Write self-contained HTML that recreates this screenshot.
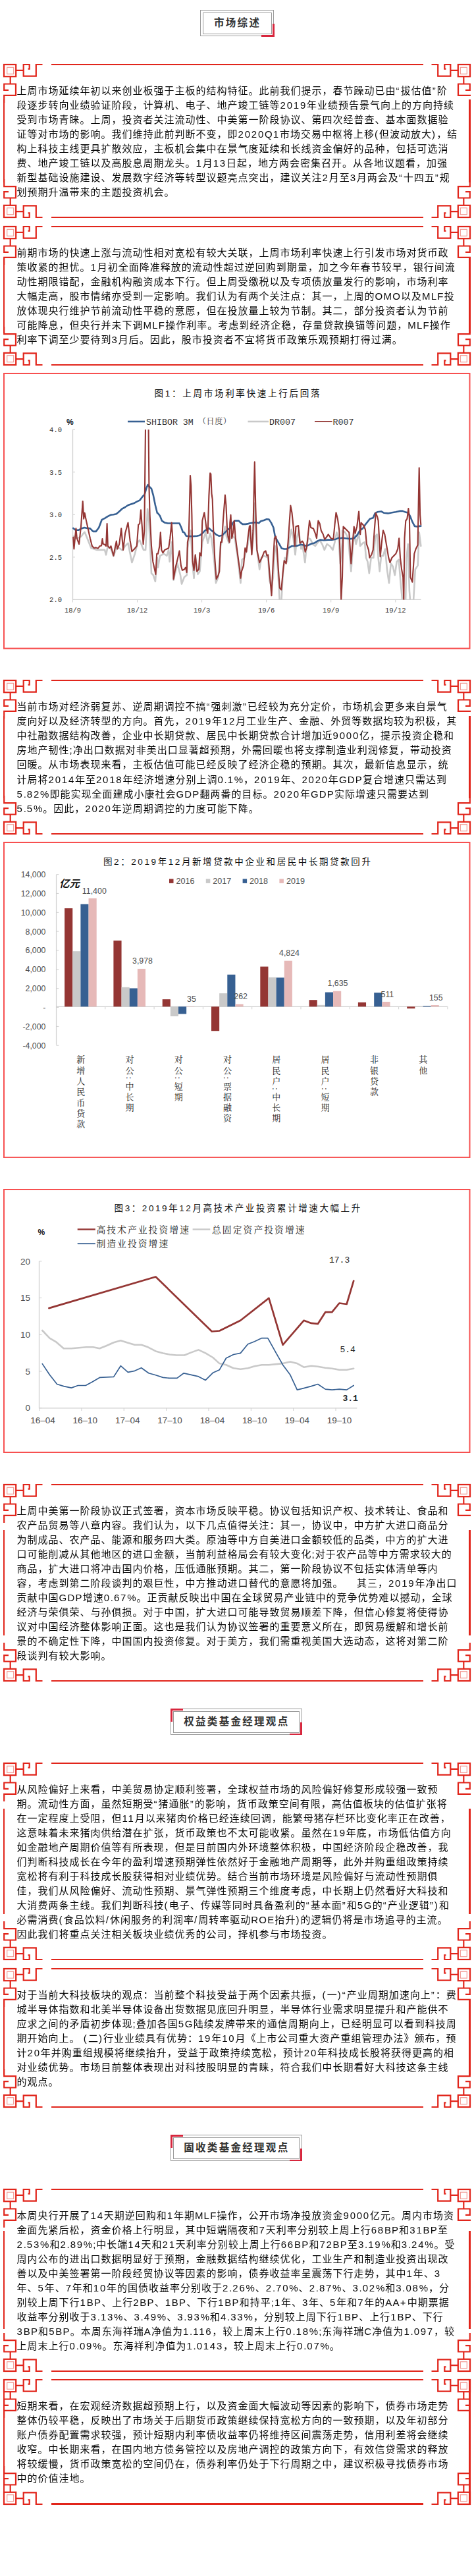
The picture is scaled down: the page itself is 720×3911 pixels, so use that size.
<!DOCTYPE html>
<html lang="zh-CN"><head><meta charset="utf-8"><title>市场综述</title><style>
*{margin:0;padding:0;box-sizing:border-box}
html,body{background:#fff}
body{width:720px;height:3911px;position:relative;overflow:hidden;font-family:"Liberation Sans","Noto Sans CJK SC",sans-serif;color:#111}
.abs{position:absolute}
.fr{position:absolute;left:5.1px;width:709.5px}
.fr svg{position:absolute;overflow:visible}
.hl{position:absolute;left:72.6px;width:565.6px;height:2.2px;background:#e1251b}
.vl{position:absolute;width:2.4px;background:#e1251b}
.tx{position:absolute;left:20.5px;font-size:15px;letter-spacing:1.0px;line-height:22.05px;white-space:nowrap;color:#0a0a0a;filter:grayscale(1)}
.tx div{height:22.05px}
.d{letter-spacing:1.75px}.u{letter-spacing:1.2px}.q{letter-spacing:2px}.p{letter-spacing:2.1px}
.ttl{position:absolute;height:40px;border:1px solid #9a9a9a;}
.ttl i{position:absolute;left:2.5px;top:2.5px;right:2.5px;bottom:2.5px;border:1px solid #9a9a9a}
.ttl b{position:absolute;left:0;right:0;top:0;bottom:0;text-align:center;line-height:38px;font-size:15.5px;letter-spacing:2.3px;text-indent:0.5px;color:#333;font-weight:bold}
.ttl u{position:absolute;background:#d7263d;text-decoration:none}
.cb{position:absolute;left:5px;width:709.5px;border:2px solid #f75050}
.cb svg{position:absolute;left:-7px;top:0}
</style></head><body>
<div class="ttl" style="top:15.4px;left:304.2px;width:112.3px"><i></i><b>市场综述</b><u style="right:-1.5px;bottom:-1.2px;width:19.5px;height:2.6px"></u><u style="right:-1.5px;bottom:-1.2px;width:3px;height:19.5px"></u></div>
<div class="ttl" style="top:2594.3px;left:259.2px;width:199.8px"><i></i><b>权益类基金经理观点</b><u style="left:-1.5px;top:-1.2px;width:19.5px;height:2.6px"></u><u style="left:-1.5px;top:-1.2px;width:3px;height:19.5px"></u><u style="right:-1.5px;bottom:-1.2px;width:19.5px;height:2.6px"></u><u style="right:-1.5px;bottom:-1.2px;width:3px;height:19.5px"></u></div>
<div class="ttl" style="top:3241.2px;left:259.2px;width:199.8px"><i></i><b>固收类基金经理观点</b><u style="left:-1.5px;top:-1.2px;width:19.5px;height:2.6px"></u><u style="left:-1.5px;top:-1.2px;width:3px;height:19.5px"></u><u style="right:-1.5px;bottom:-1.2px;width:19.5px;height:2.6px"></u><u style="right:-1.5px;bottom:-1.2px;width:3px;height:19.5px"></u></div>
<div class="fr" style="top:96.5px;height:234.6px">
<svg width="60" height="60" style="left:0;top:0"><g transform="translate(0,0)"><g fill="none" stroke="#e1251b" stroke-width="2.2"><rect x="1" y="1" width="18.2" height="18.2"/><path d="M19 9.8H30.7M30.7 0V19.7M30.7 1H39.7V7.6H37.6M30.7 18.7H49.8V1H59.5M10.7 19V30.5M0.2 30.5H20M1.2 30.5V39.9H8M19 30.5V47.9H1.2V59"/></g><rect x="5.7" y="5.3" width="10" height="10" fill="none" stroke="#f29b95" stroke-width="1.2"/></g></svg>
<svg width="60" height="60" style="right:0;top:0"><g transform="translate(60,0) scale(-1,1)"><g transform="translate(0,0)"><g fill="none" stroke="#e1251b" stroke-width="2.2"><rect x="1" y="1" width="18.2" height="18.2"/><path d="M19 9.8H30.7M30.7 0V19.7M30.7 1H39.7V7.6H37.6M30.7 18.7H49.8V1H59.5M10.7 19V30.5M0.2 30.5H20M1.2 30.5V39.9H8M19 30.5V47.9H1.2H0"/></g><rect x="5.7" y="5.3" width="10" height="10" fill="none" stroke="#f29b95" stroke-width="1.2"/></g></g></svg>
<svg width="60" height="60" style="left:0;bottom:0"><g transform="translate(0,60) scale(1,-1)"><g transform="translate(0,0)"><g fill="none" stroke="#e1251b" stroke-width="2.2"><rect x="1" y="1" width="18.2" height="18.2"/><path d="M19 9.8H30.7M30.7 0V19.7M30.7 1H39.7V7.6H37.6M30.7 18.7H49.8V1H59.5M10.7 19V30.5M0.2 30.5H20M1.2 30.5V39.9H8M19 30.5V47.9H1.2V59"/></g><rect x="5.7" y="5.3" width="10" height="10" fill="none" stroke="#f29b95" stroke-width="1.2"/></g></g></svg>
<svg width="60" height="60" style="right:0;bottom:0"><g transform="translate(60,60) scale(-1,-1)"><g transform="translate(0,0)"><g fill="none" stroke="#e1251b" stroke-width="2.2"><rect x="1" y="1" width="18.2" height="18.2"/><path d="M19 9.8H30.7M30.7 0V19.7M30.7 1H39.7V7.6H37.6M30.7 18.7H49.8V1H59.5M10.7 19V30.5M0.2 30.5H20M1.2 30.5V39.9H8M19 30.5V47.9H1.2V59"/></g><rect x="5.7" y="5.3" width="10" height="10" fill="none" stroke="#f29b95" stroke-width="1.2"/></g></g></svg>
<div class="hl" style="top:0"></div><div class="hl" style="bottom:0"></div>
<div class="vl" style="left:0px;top:54.6px;height:125.5px"></div>
<div class="vl" style="left:707.1px;top:54.6px;height:125.5px"></div>
<div class="tx" style="top:30.08px">
<div>上周市场延续年初以来创业板强于主板的结构特征。此前我们提示，春节躁动已由<span class="q">“</span>拔估值<span class="q">”</span>阶</div>
<div>段逐步转向业绩验证阶段，计算机、电子、地产竣工链等<span class="d">2019</span>年业绩预告景气向上的方向持续</div>
<div>受到市场青睐。上周，投资者关注流动性、中美第一阶段协议、第四次经普查、基本面数据验</div>
<div>证等对市场的影响。我们维持此前判断不变，即<span class="d">2020</span><span class="u">Q</span><span class="d">1</span>市场交易中枢将上移<span class="p">(</span>但波动放大<span class="p">)</span>，结</div>
<div>构上科技主线更具扩散效应，主板机会集中在景气度延续和长线资金偏好的品种，包括可选消</div>
<div>费、地产竣工链以及高股息周期龙头。<span class="d">1</span>月<span class="d">13</span>日起，地方两会密集召开。从各地议题看，加强</div>
<div>新型基础设施建设、发展数字经济等转型议题亮点突出，建议关注<span class="d">2</span>月至<span class="d">3</span>月两会及<span class="q">“</span>十四五<span class="q">”</span>规</div>
<div>划预期升温带来的主题投资机会。</div>
</div></div>
<div class="fr" style="top:342.7px;height:212.6px">
<svg width="60" height="60" style="left:0;top:0"><g transform="translate(0,0)"><g fill="none" stroke="#e1251b" stroke-width="2.2"><rect x="1" y="1" width="18.2" height="18.2"/><path d="M19 9.8H30.7M30.7 0V19.7M30.7 1H39.7V7.6H37.6M30.7 18.7H49.8V1H59.5M10.7 19V30.5M0.2 30.5H20M1.2 30.5V39.9H8M19 30.5V47.9H1.2V59"/></g><rect x="5.7" y="5.3" width="10" height="10" fill="none" stroke="#f29b95" stroke-width="1.2"/></g></svg>
<svg width="60" height="60" style="right:0;top:0"><g transform="translate(60,0) scale(-1,1)"><g transform="translate(0,0)"><g fill="none" stroke="#e1251b" stroke-width="2.2"><rect x="1" y="1" width="18.2" height="18.2"/><path d="M19 9.8H30.7M30.7 0V19.7M30.7 1H39.7V7.6H37.6M30.7 18.7H49.8V1H59.5M10.7 19V30.5M0.2 30.5H20M1.2 30.5V39.9H8M19 30.5V47.9H1.2H0"/></g><rect x="5.7" y="5.3" width="10" height="10" fill="none" stroke="#f29b95" stroke-width="1.2"/></g></g></svg>
<svg width="60" height="60" style="left:0;bottom:0"><g transform="translate(0,60) scale(1,-1)"><g transform="translate(0,0)"><g fill="none" stroke="#e1251b" stroke-width="2.2"><rect x="1" y="1" width="18.2" height="18.2"/><path d="M19 9.8H30.7M30.7 0V19.7M30.7 1H39.7V7.6H37.6M30.7 18.7H49.8V1H59.5M10.7 19V30.5M0.2 30.5H20M1.2 30.5V39.9H8M19 30.5V47.9H1.2V59"/></g><rect x="5.7" y="5.3" width="10" height="10" fill="none" stroke="#f29b95" stroke-width="1.2"/></g></g></svg>
<svg width="60" height="60" style="right:0;bottom:0"><g transform="translate(60,60) scale(-1,-1)"><g transform="translate(0,0)"><g fill="none" stroke="#e1251b" stroke-width="2.2"><rect x="1" y="1" width="18.2" height="18.2"/><path d="M19 9.8H30.7M30.7 0V19.7M30.7 1H39.7V7.6H37.6M30.7 18.7H49.8V1H59.5M10.7 19V30.5M0.2 30.5H20M1.2 30.5V39.9H8M19 30.5V47.9H1.2V59"/></g><rect x="5.7" y="5.3" width="10" height="10" fill="none" stroke="#f29b95" stroke-width="1.2"/></g></g></svg>
<div class="hl" style="top:0"></div><div class="hl" style="bottom:0"></div>
<div class="vl" style="left:0px;top:49.5px;height:113.7px"></div>
<div class="vl" style="left:707.1px;top:49.5px;height:113.7px"></div>
<div class="tx" style="top:30.08px">
<div>前期市场的快速上涨与流动性相对宽松有较大关联，上周市场利率快速上行引发市场对货币政</div>
<div>策收紧的担忧。<span class="d">1</span>月初全面降准释放的流动性超过逆回购到期量，加之今年春节较早，银行间流</div>
<div>动性期限错配，金融机构融资成本下行。但上周受缴税以及专项债放量发行的影响，市场利率</div>
<div>大幅走高，股市情绪亦受到一定影响。我们认为有两个关注点：其一，上周的<span class="u">OMO</span>以及<span class="u">MLF</span>投</div>
<div>放体现央行维护节前流动性平稳的意愿，但在投放量上较为节制。其二，部分投资者认为节前</div>
<div>可能降息，但央行并未下调<span class="u">MLF</span>操作利率。考虑到经济企稳，存量贷款换锚等问题，<span class="u">MLF</span>操作</div>
<div>利率下调至少要待到<span class="d">3</span>月后。因此，股市投资者不宜将货币政策乐观预期打得过满。</div>
</div></div>
<div class="fr" style="top:1032.2px;height:234.6px">
<svg width="60" height="60" style="left:0;top:0"><g transform="translate(0,0)"><g fill="none" stroke="#e1251b" stroke-width="2.2"><rect x="1" y="1" width="18.2" height="18.2"/><path d="M19 9.8H30.7M30.7 0V19.7M30.7 1H39.7V7.6H37.6M30.7 18.7H49.8V1H59.5M10.7 19V30.5M0.2 30.5H20M1.2 30.5V39.9H8M19 30.5V47.9H1.2V59"/></g><rect x="5.7" y="5.3" width="10" height="10" fill="none" stroke="#f29b95" stroke-width="1.2"/></g></svg>
<svg width="60" height="60" style="right:0;top:0"><g transform="translate(60,0) scale(-1,1)"><g transform="translate(0,0)"><g fill="none" stroke="#e1251b" stroke-width="2.2"><rect x="1" y="1" width="18.2" height="18.2"/><path d="M19 9.8H30.7M30.7 0V19.7M30.7 1H39.7V7.6H37.6M30.7 18.7H49.8V1H59.5M10.7 19V30.5M0.2 30.5H20M1.2 30.5V39.9H8M19 30.5V47.9H1.2H0"/></g><rect x="5.7" y="5.3" width="10" height="10" fill="none" stroke="#f29b95" stroke-width="1.2"/></g></g></svg>
<svg width="60" height="60" style="left:0;bottom:0"><g transform="translate(0,60) scale(1,-1)"><g transform="translate(0,0)"><g fill="none" stroke="#e1251b" stroke-width="2.2"><rect x="1" y="1" width="18.2" height="18.2"/><path d="M19 9.8H30.7M30.7 0V19.7M30.7 1H39.7V7.6H37.6M30.7 18.7H49.8V1H59.5M10.7 19V30.5M0.2 30.5H20M1.2 30.5V39.9H8M19 30.5V47.9H1.2V59"/></g><rect x="5.7" y="5.3" width="10" height="10" fill="none" stroke="#f29b95" stroke-width="1.2"/></g></g></svg>
<svg width="60" height="60" style="right:0;bottom:0"><g transform="translate(60,60) scale(-1,-1)"><g transform="translate(0,0)"><g fill="none" stroke="#e1251b" stroke-width="2.2"><rect x="1" y="1" width="18.2" height="18.2"/><path d="M19 9.8H30.7M30.7 0V19.7M30.7 1H39.7V7.6H37.6M30.7 18.7H49.8V1H59.5M10.7 19V30.5M0.2 30.5H20M1.2 30.5V39.9H8M19 30.5V47.9H1.2V59"/></g><rect x="5.7" y="5.3" width="10" height="10" fill="none" stroke="#f29b95" stroke-width="1.2"/></g></g></svg>
<div class="hl" style="top:0"></div><div class="hl" style="bottom:0"></div>
<div class="vl" style="left:0px;top:54.6px;height:125.5px"></div>
<div class="vl" style="left:707.1px;top:54.6px;height:125.5px"></div>
<div class="tx" style="top:30.08px">
<div>当前市场对经济弱复苏、逆周期调控不搞<span class="q">“</span>强刺激<span class="q">”</span>已经较为充分定价，市场机会更多来自景气</div>
<div>度向好以及经济转型的方向。首先，<span class="d">2019</span>年<span class="d">12</span>月工业生产、金融、外贸等数据均较为积极，其</div>
<div>中社融数据结构改善，企业中长期贷款、居民中长期贷款合计增加近<span class="d">9000</span>亿，提示投资企稳和</div>
<div>房地产韧性;净出口数据对非美出口显著超预期，外需回暖也将支撑制造业利润修复，带动投资</div>
<div>回暖。从市场表现来看，主板估值可能已经反映了经济企稳的预期。其次，最新信息显示，统</div>
<div>计局将<span class="d">2014</span>年至<span class="d">2018</span>年经济增速分别上调<span class="d">0</span>.<span class="d">1</span>%，<span class="d">2019</span>年、<span class="d">2020</span>年<span class="u">GDP</span>复合增速只需达到</div>
<div><span class="d">5</span>.<span class="d">82</span>%即能实现全面建成小康社会<span class="u">GDP</span>翻两番的目标。<span class="d">2020</span>年<span class="u">GDP</span>实际增速只需要达到</div>
<div><span class="d">5</span>.<span class="d">5</span>%。因此，<span class="d">2020</span>年逆周期调控的力度可能下降。</div>
</div></div>
<div class="fr" style="top:2252.6px;height:300.8px">
<svg width="60" height="60" style="left:0;top:0"><g transform="translate(0,0)"><g fill="none" stroke="#e1251b" stroke-width="2.2"><rect x="1" y="1" width="18.2" height="18.2"/><path d="M19 9.8H30.7M30.7 0V19.7M30.7 1H39.7V7.6H37.6M30.7 18.7H49.8V1H59.5M10.7 19V30.5M0.2 30.5H20M1.2 30.5V39.9H8M19 30.5V47.9H1.2V59"/></g><rect x="5.7" y="5.3" width="10" height="10" fill="none" stroke="#f29b95" stroke-width="1.2"/></g></svg>
<svg width="60" height="60" style="right:0;top:0"><g transform="translate(60,0) scale(-1,1)"><g transform="translate(0,0)"><g fill="none" stroke="#e1251b" stroke-width="2.2"><rect x="1" y="1" width="18.2" height="18.2"/><path d="M19 9.8H30.7M30.7 0V19.7M30.7 1H39.7V7.6H37.6M30.7 18.7H49.8V1H59.5M10.7 19V30.5M0.2 30.5H20M1.2 30.5V39.9H8M19 30.5V47.9H1.2H0"/></g><rect x="5.7" y="5.3" width="10" height="10" fill="none" stroke="#f29b95" stroke-width="1.2"/></g></g></svg>
<svg width="60" height="60" style="left:0;bottom:0"><g transform="translate(0,60) scale(1,-1)"><g transform="translate(0,0)"><g fill="none" stroke="#e1251b" stroke-width="2.2"><rect x="1" y="1" width="18.2" height="18.2"/><path d="M19 9.8H30.7M30.7 0V19.7M30.7 1H39.7V7.6H37.6M30.7 18.7H49.8V1H59.5M10.7 19V30.5M0.2 30.5H20M1.2 30.5V39.9H8M19 30.5V47.9H1.2V59"/></g><rect x="5.7" y="5.3" width="10" height="10" fill="none" stroke="#f29b95" stroke-width="1.2"/></g></g></svg>
<svg width="60" height="60" style="right:0;bottom:0"><g transform="translate(60,60) scale(-1,-1)"><g transform="translate(0,0)"><g fill="none" stroke="#e1251b" stroke-width="2.2"><rect x="1" y="1" width="18.2" height="18.2"/><path d="M19 9.8H30.7M30.7 0V19.7M30.7 1H39.7V7.6H37.6M30.7 18.7H49.8V1H59.5M10.7 19V30.5M0.2 30.5H20M1.2 30.5V39.9H8M19 30.5V47.9H1.2V59"/></g><rect x="5.7" y="5.3" width="10" height="10" fill="none" stroke="#f29b95" stroke-width="1.2"/></g></g></svg>
<div class="hl" style="top:0"></div><div class="hl" style="bottom:0"></div>
<div class="vl" style="left:0px;top:70.0px;height:160.9px"></div>
<div class="vl" style="left:707.1px;top:70.0px;height:160.9px"></div>
<div class="tx" style="top:30.08px">
<div>上周中美第一阶段协议正式签署，资本市场反映平稳。协议包括知识产权、技术转让、食品和</div>
<div>农产品贸易等八章内容。我们认为，以下几点值得关注：其一，协议中，中方扩大进口商品分</div>
<div>为制成品、农产品、能源和服务四大类。原油等中方自美进口金额较低的品类，中方的扩大进</div>
<div>口可能削减从其他地区的进口金额，当前利益格局会有较大变化;对于农产品等中方需求较大的</div>
<div>商品，扩大进口将冲击国内价格，压低通胀预期。其二，第一阶段协议不包括实体清单等内</div>
<div>容，考虑到第二阶段谈判的艰巨性，中方推动进口替代的意愿将加强。<span style="display:inline-block;width:20.4px"></span>其三，<span class="d">2019</span>年净出口</div>
<div>贡献中国<span class="u">GDP</span>增速<span class="d">0</span>.<span class="d">67</span>%。正贡献反映出中国在全球贸易产业链中的竞争优势难以撼动，全球</div>
<div>经济与荣俱荣、与孙俱损。对于中国，扩大进口可能导致贸易顺差下降，但信心修复将使得协</div>
<div>议对中国经济整体影响正面。这也是我们认为协议签署的重要意义所在，即贸易缓解和增长前</div>
<div>景的不确定性下降，中国国内投资修复。对于美方，我们需重视美国大选动态，这将对第二阶</div>
<div>段谈判有较大影响。</div>
</div></div>
<div class="fr" style="top:2675.5px;height:300.8px">
<svg width="60" height="60" style="left:0;top:0"><g transform="translate(0,0)"><g fill="none" stroke="#e1251b" stroke-width="2.2"><rect x="1" y="1" width="18.2" height="18.2"/><path d="M19 9.8H30.7M30.7 0V19.7M30.7 1H39.7V7.6H37.6M30.7 18.7H49.8V1H59.5M10.7 19V30.5M0.2 30.5H20M1.2 30.5V39.9H8M19 30.5V47.9H1.2V59"/></g><rect x="5.7" y="5.3" width="10" height="10" fill="none" stroke="#f29b95" stroke-width="1.2"/></g></svg>
<svg width="60" height="60" style="right:0;top:0"><g transform="translate(60,0) scale(-1,1)"><g transform="translate(0,0)"><g fill="none" stroke="#e1251b" stroke-width="2.2"><rect x="1" y="1" width="18.2" height="18.2"/><path d="M19 9.8H30.7M30.7 0V19.7M30.7 1H39.7V7.6H37.6M30.7 18.7H49.8V1H59.5M10.7 19V30.5M0.2 30.5H20M1.2 30.5V39.9H8M19 30.5V47.9H1.2H0"/></g><rect x="5.7" y="5.3" width="10" height="10" fill="none" stroke="#f29b95" stroke-width="1.2"/></g></g></svg>
<svg width="60" height="60" style="left:0;bottom:0"><g transform="translate(0,60) scale(1,-1)"><g transform="translate(0,0)"><g fill="none" stroke="#e1251b" stroke-width="2.2"><rect x="1" y="1" width="18.2" height="18.2"/><path d="M19 9.8H30.7M30.7 0V19.7M30.7 1H39.7V7.6H37.6M30.7 18.7H49.8V1H59.5M10.7 19V30.5M0.2 30.5H20M1.2 30.5V39.9H8M19 30.5V47.9H1.2V59"/></g><rect x="5.7" y="5.3" width="10" height="10" fill="none" stroke="#f29b95" stroke-width="1.2"/></g></g></svg>
<svg width="60" height="60" style="right:0;bottom:0"><g transform="translate(60,60) scale(-1,-1)"><g transform="translate(0,0)"><g fill="none" stroke="#e1251b" stroke-width="2.2"><rect x="1" y="1" width="18.2" height="18.2"/><path d="M19 9.8H30.7M30.7 0V19.7M30.7 1H39.7V7.6H37.6M30.7 18.7H49.8V1H59.5M10.7 19V30.5M0.2 30.5H20M1.2 30.5V39.9H8M19 30.5V47.9H1.2V59"/></g><rect x="5.7" y="5.3" width="10" height="10" fill="none" stroke="#f29b95" stroke-width="1.2"/></g></g></svg>
<div class="hl" style="top:0"></div><div class="hl" style="bottom:0"></div>
<div class="vl" style="left:0px;top:70.0px;height:160.9px"></div>
<div class="vl" style="left:707.1px;top:70.0px;height:160.9px"></div>
<div class="tx" style="top:30.08px">
<div>从风险偏好上来看，中美贸易协定顺利签署，全球权益市场的风险偏好修复形成较强一致预</div>
<div>期。流动性方面，虽然短期受<span class="q">“</span>猪通胀<span class="q">”</span>的影响，货币政策空间有限，高估值板块的估值扩张将</div>
<div>在一定程度上受阻，但<span class="d">11</span>月以来猪肉价格已经连续回调，能繁母猪存栏环比变化率正在改善，</div>
<div>这意味着未来猪肉供给潜在扩张，货币政策也不太可能收紧。虽然在<span class="d">19</span>年底，市场低估值方向</div>
<div>如金融地产周期价值等有所表现，但是目前国内外环境整体积极，中国经济阶段企稳改善，我</div>
<div>们判断科技成长在今年的盈利增速预期弹性依然好于金融地产周期等，此外并购重组政策持续</div>
<div>宽松将有利于科技成长股获得相对业绩优势。结合当前市场环境是风险偏好与流动性预期俱</div>
<div>佳，我们从风险偏好、流动性预期、景气弹性预期三个维度考虑，中长期上仍然看好大科技和</div>
<div>大消费两条主线。我们判断科技<span class="p">(</span>电子、传媒等同时具备盈利的<span class="q">“</span>基本面<span class="q">”</span>和<span class="d">5</span><span class="u">G</span>的<span class="q">“</span>产业逻辑<span class="q">”</span><span class="p">)</span>和</div>
<div>必需消费<span class="p">(</span>食品饮料<span class="p">/</span>休闲服务的利润率<span class="p">/</span>周转率驱动<span class="u">ROE</span>抬升<span class="p">)</span>的逻辑仍将是市场追寻的主流。</div>
<div>因此我们将重点关注相关板块业绩优秀的公司，择机参与市场投资。</div>
</div></div>
<div class="fr" style="top:2987.9px;height:212.6px">
<svg width="60" height="60" style="left:0;top:0"><g transform="translate(0,0)"><g fill="none" stroke="#e1251b" stroke-width="2.2"><rect x="1" y="1" width="18.2" height="18.2"/><path d="M19 9.8H30.7M30.7 0V19.7M30.7 1H39.7V7.6H37.6M30.7 18.7H49.8V1H59.5M10.7 19V30.5M0.2 30.5H20M1.2 30.5V39.9H8M19 30.5V47.9H1.2V59"/></g><rect x="5.7" y="5.3" width="10" height="10" fill="none" stroke="#f29b95" stroke-width="1.2"/></g></svg>
<svg width="60" height="60" style="right:0;top:0"><g transform="translate(60,0) scale(-1,1)"><g transform="translate(0,0)"><g fill="none" stroke="#e1251b" stroke-width="2.2"><rect x="1" y="1" width="18.2" height="18.2"/><path d="M19 9.8H30.7M30.7 0V19.7M30.7 1H39.7V7.6H37.6M30.7 18.7H49.8V1H59.5M10.7 19V30.5M0.2 30.5H20M1.2 30.5V39.9H8M19 30.5V47.9H1.2H0"/></g><rect x="5.7" y="5.3" width="10" height="10" fill="none" stroke="#f29b95" stroke-width="1.2"/></g></g></svg>
<svg width="60" height="60" style="left:0;bottom:0"><g transform="translate(0,60) scale(1,-1)"><g transform="translate(0,0)"><g fill="none" stroke="#e1251b" stroke-width="2.2"><rect x="1" y="1" width="18.2" height="18.2"/><path d="M19 9.8H30.7M30.7 0V19.7M30.7 1H39.7V7.6H37.6M30.7 18.7H49.8V1H59.5M10.7 19V30.5M0.2 30.5H20M1.2 30.5V39.9H8M19 30.5V47.9H1.2V59"/></g><rect x="5.7" y="5.3" width="10" height="10" fill="none" stroke="#f29b95" stroke-width="1.2"/></g></g></svg>
<svg width="60" height="60" style="right:0;bottom:0"><g transform="translate(60,60) scale(-1,-1)"><g transform="translate(0,0)"><g fill="none" stroke="#e1251b" stroke-width="2.2"><rect x="1" y="1" width="18.2" height="18.2"/><path d="M19 9.8H30.7M30.7 0V19.7M30.7 1H39.7V7.6H37.6M30.7 18.7H49.8V1H59.5M10.7 19V30.5M0.2 30.5H20M1.2 30.5V39.9H8M19 30.5V47.9H1.2V59"/></g><rect x="5.7" y="5.3" width="10" height="10" fill="none" stroke="#f29b95" stroke-width="1.2"/></g></g></svg>
<div class="hl" style="top:0"></div><div class="hl" style="bottom:0"></div>
<div class="vl" style="left:0px;top:49.5px;height:113.7px"></div>
<div class="vl" style="left:707.1px;top:49.5px;height:113.7px"></div>
<div class="tx" style="top:30.08px">
<div>对于当前大科技板块的观点：当前整个科技受益于两个因素共振，<span class="p">(</span>一<span class="p">)</span><span class="q">“</span>产业周期加速向上<span class="q">”</span>：费</div>
<div>城半导体指数和北美半导体设备出货数据见底回升明显，半导体行业需求明显提升和产能供不</div>
<div>应求之间的矛盾初步体现;叠加各国<span class="d">5</span><span class="u">G</span>陆续发牌带来的通信周期向上，已经明显可以看到科技周</div>
<div>期开始向上。 <span class="p">(</span>二<span class="p">)</span>行业业绩具有优势：<span class="d">19</span>年<span class="d">10</span>月《上市公司重大资产重组管理办法》颁布，预</div>
<div>计<span class="d">20</span>年并购重组规模将继续抬升，受益于政策持续宽松，预计<span class="d">20</span>年科技成长股将获得更高的相</div>
<div>对业绩优势。市场目前整体表现出对科技股明显的青睐，符合我们中长期看好大科技这条主线</div>
<div>的观点。</div>
</div></div>
<div class="fr" style="top:3322.7px;height:278.7px">
<svg width="60" height="60" style="left:0;top:0"><g transform="translate(0,0)"><g fill="none" stroke="#e1251b" stroke-width="2.2"><rect x="1" y="1" width="18.2" height="18.2"/><path d="M19 9.8H30.7M30.7 0V19.7M30.7 1H39.7V7.6H37.6M30.7 18.7H49.8V1H59.5M10.7 19V30.5M0.2 30.5H20M1.2 30.5V39.9H8M19 30.5V47.9H1.2V59"/></g><rect x="5.7" y="5.3" width="10" height="10" fill="none" stroke="#f29b95" stroke-width="1.2"/></g></svg>
<svg width="60" height="60" style="right:0;top:0"><g transform="translate(60,0) scale(-1,1)"><g transform="translate(0,0)"><g fill="none" stroke="#e1251b" stroke-width="2.2"><rect x="1" y="1" width="18.2" height="18.2"/><path d="M19 9.8H30.7M30.7 0V19.7M30.7 1H39.7V7.6H37.6M30.7 18.7H49.8V1H59.5M10.7 19V30.5M0.2 30.5H20M1.2 30.5V39.9H8M19 30.5V47.9H1.2H0"/></g><rect x="5.7" y="5.3" width="10" height="10" fill="none" stroke="#f29b95" stroke-width="1.2"/></g></g></svg>
<svg width="60" height="60" style="left:0;bottom:0"><g transform="translate(0,60) scale(1,-1)"><g transform="translate(0,0)"><g fill="none" stroke="#e1251b" stroke-width="2.2"><rect x="1" y="1" width="18.2" height="18.2"/><path d="M19 9.8H30.7M30.7 0V19.7M30.7 1H39.7V7.6H37.6M30.7 18.7H49.8V1H59.5M10.7 19V30.5M0.2 30.5H20M1.2 30.5V39.9H8M19 30.5V47.9H1.2V59"/></g><rect x="5.7" y="5.3" width="10" height="10" fill="none" stroke="#f29b95" stroke-width="1.2"/></g></g></svg>
<svg width="60" height="60" style="right:0;bottom:0"><g transform="translate(60,60) scale(-1,-1)"><g transform="translate(0,0)"><g fill="none" stroke="#e1251b" stroke-width="2.2"><rect x="1" y="1" width="18.2" height="18.2"/><path d="M19 9.8H30.7M30.7 0V19.7M30.7 1H39.7V7.6H37.6M30.7 18.7H49.8V1H59.5M10.7 19V30.5M0.2 30.5H20M1.2 30.5V39.9H8M19 30.5V47.9H1.2V59"/></g><rect x="5.7" y="5.3" width="10" height="10" fill="none" stroke="#f29b95" stroke-width="1.2"/></g></g></svg>
<div class="hl" style="top:0"></div><div class="hl" style="bottom:0"></div>
<div class="vl" style="left:0px;top:64.8px;height:149.0px"></div>
<div class="vl" style="left:707.1px;top:64.8px;height:149.0px"></div>
<div class="tx" style="top:30.08px">
<div>本周央行开展了<span class="d">14</span>天期逆回购和<span class="d">1</span>年期<span class="u">MLF</span>操作，公开市场净投放资金<span class="d">9000</span>亿元。周内市场资</div>
<div>金面先紧后松，资金价格上行明显，其中短端隔夜和<span class="d">7</span>天利率分别较上周上行<span class="d">68</span><span class="u">BP</span>和<span class="d">31</span><span class="u">BP</span>至</div>
<div><span class="d">2</span>.<span class="d">53</span>%和<span class="d">2</span>.<span class="d">89</span>%;中长端<span class="d">14</span>天和<span class="d">21</span>天利率分别较上周上行<span class="d">66</span><span class="u">BP</span>和<span class="d">72</span><span class="u">BP</span>至<span class="d">3</span>.<span class="d">19</span>%和<span class="d">3</span>.<span class="d">24</span>%。受</div>
<div>周内公布的进出口数据明显好于预期，金融数据结构继续优化，工业生产和制造业投资出现改</div>
<div>善以及中美签署第一阶段经贸协议等因素的影响，债券收益率呈震荡下行走势，其中<span class="d">1</span>年、<span class="d">3</span></div>
<div>年、<span class="d">5</span>年、<span class="d">7</span>年和<span class="d">10</span>年的国债收益率分别收于<span class="d">2</span>.<span class="d">26</span>%、<span class="d">2</span>.<span class="d">70</span>%、<span class="d">2</span>.<span class="d">87</span>%、<span class="d">3</span>.<span class="d">02</span>%和<span class="d">3</span>.<span class="d">08</span>%，分</div>
<div>别较上周下行<span class="d">1</span><span class="u">BP</span>、上行<span class="d">2</span><span class="u">BP</span>、<span class="d">1</span><span class="u">BP</span>、下行<span class="d">1</span><span class="u">BP</span>和持平;<span class="d">1</span>年、<span class="d">3</span>年、<span class="d">5</span>年和<span class="d">7</span>年的<span class="u">AA</span><span class="p">+</span>中期票据</div>
<div>收益率分别收于<span class="d">3</span>.<span class="d">13</span>%、<span class="d">3</span>.<span class="d">49</span>%、<span class="d">3</span>.<span class="d">93</span>%和<span class="d">4</span>.<span class="d">33</span>%，分别较上周下行<span class="d">1</span><span class="u">BP</span>、上行<span class="d">1</span><span class="u">BP</span>、下行</div>
<div><span class="d">3</span><span class="u">BP</span>和<span class="d">5</span><span class="u">BP</span>。本周东海祥瑞<span class="u">A</span>净值为<span class="d">1</span>.<span class="d">116</span>，较上周末上行<span class="d">0</span>.<span class="d">18</span>%;东海祥瑞<span class="u">C</span>净值为<span class="d">1</span>.<span class="d">097</span>，较</div>
<div>上周末上行<span class="d">0</span>.<span class="d">09</span>%。东海祥利净值为<span class="d">1</span>.<span class="d">0143</span>，较上周末上行<span class="d">0</span>.<span class="d">07</span>%。</div>
</div></div>
<div class="fr" style="top:3612.1px;height:190.5px">
<svg width="60" height="60" style="left:0;top:0"><g transform="translate(0,0)"><g fill="none" stroke="#e1251b" stroke-width="2.2"><rect x="1" y="1" width="18.2" height="18.2"/><path d="M19 9.8H30.7M30.7 0V19.7M30.7 1H39.7V7.6H37.6M30.7 18.7H49.8V1H59.5M10.7 19V30.5M0.2 30.5H20M1.2 30.5V39.9H8M19 30.5V47.9H1.2V59"/></g><rect x="5.7" y="5.3" width="10" height="10" fill="none" stroke="#f29b95" stroke-width="1.2"/></g></svg>
<svg width="60" height="60" style="right:0;top:0"><g transform="translate(60,0) scale(-1,1)"><g transform="translate(0,0)"><g fill="none" stroke="#e1251b" stroke-width="2.2"><rect x="1" y="1" width="18.2" height="18.2"/><path d="M19 9.8H30.7M30.7 0V19.7M30.7 1H39.7V7.6H37.6M30.7 18.7H49.8V1H59.5M10.7 19V30.5M0.2 30.5H20M1.2 30.5V39.9H8M19 30.5V47.9H1.2H0"/></g><rect x="5.7" y="5.3" width="10" height="10" fill="none" stroke="#f29b95" stroke-width="1.2"/></g></g></svg>
<svg width="60" height="60" style="left:0;bottom:0"><g transform="translate(0,60) scale(1,-1)"><g transform="translate(0,0)"><g fill="none" stroke="#e1251b" stroke-width="2.2"><rect x="1" y="1" width="18.2" height="18.2"/><path d="M19 9.8H30.7M30.7 0V19.7M30.7 1H39.7V7.6H37.6M30.7 18.7H49.8V1H59.5M10.7 19V30.5M0.2 30.5H20M1.2 30.5V39.9H8M19 30.5V47.9H1.2V59"/></g><rect x="5.7" y="5.3" width="10" height="10" fill="none" stroke="#f29b95" stroke-width="1.2"/></g></g></svg>
<svg width="60" height="60" style="right:0;bottom:0"><g transform="translate(60,60) scale(-1,-1)"><g transform="translate(0,0)"><g fill="none" stroke="#e1251b" stroke-width="2.2"><rect x="1" y="1" width="18.2" height="18.2"/><path d="M19 9.8H30.7M30.7 0V19.7M30.7 1H39.7V7.6H37.6M30.7 18.7H49.8V1H59.5M10.7 19V30.5M0.2 30.5H20M1.2 30.5V39.9H8M19 30.5V47.9H1.2V59"/></g><rect x="5.7" y="5.3" width="10" height="10" fill="none" stroke="#f29b95" stroke-width="1.2"/></g></g></svg>
<div class="hl" style="top:0"></div><div class="hl" style="bottom:0"></div>
<div class="vl" style="left:0px;top:0px;height:190.5px"></div>
<div class="vl" style="left:707.1px;top:0px;height:190.5px"></div>
<div class="tx" style="top:30.08px">
<div>短期来看，在宏观经济数据超预期上行，以及资金面大幅波动等因素的影响下，债券市场走势</div>
<div>整体仍较平稳，反映出了市场关于后期货币政策继续保持宽松方向的一致预期，以及年初部分</div>
<div>账户债券配置需求较强，预计短期内利率债收益率仍将维持区间震荡走势，信用利差将会继续</div>
<div>收窄。中长期来看，在国内地方债务管控以及房地产调控的政策方向下，有效信贷需求的释放</div>
<div>将较缓慢，货币政策宽松的空间仍在，债券利率仍处于下行周期之中，建议积极寻找债券市场</div>
<div>中的价值洼地。</div>
</div></div>
<svg class="abs" style="left:0;top:566px" width="720" height="419.5" viewBox="0 566 720 419.5"><rect x="6" y="567" width="707.5" height="417.5" fill="none" stroke="#f75050" stroke-width="2"/><text x="234.6" y="601.5" font-family='"Liberation Sans","Noto Sans CJK SC",sans-serif' font-size="13.5" letter-spacing="2.72" fill="#111">图1：上周市场利率快速上行后回落</text><path d="M110.5 652V910.4H639.5" fill="none" stroke="#d0d0d0" stroke-width="1.3"/><path d="M110.5 652.3H114" stroke="#d0d0d0" stroke-width="1"/><text x="94" y="656.0999999999999" text-anchor="end" font-family='"Liberation Mono",monospace' font-size="10.5" fill="#333">4.0</text><path d="M110.5 716.8H114" stroke="#d0d0d0" stroke-width="1"/><text x="94" y="720.5999999999999" text-anchor="end" font-family='"Liberation Mono",monospace' font-size="10.5" fill="#333">3.5</text><path d="M110.5 781.3H114" stroke="#d0d0d0" stroke-width="1"/><text x="94" y="785.0999999999999" text-anchor="end" font-family='"Liberation Mono",monospace' font-size="10.5" fill="#333">3.0</text><path d="M110.5 845.9H114" stroke="#d0d0d0" stroke-width="1"/><text x="94" y="849.6999999999999" text-anchor="end" font-family='"Liberation Mono",monospace' font-size="10.5" fill="#333">2.5</text><path d="M110.5 910.4H114" stroke="#d0d0d0" stroke-width="1"/><text x="94" y="914.1999999999999" text-anchor="end" font-family='"Liberation Mono",monospace' font-size="10.5" fill="#333">2.0</text><path d="M110.5 910.4V914.5" stroke="#d0d0d0" stroke-width="1"/><text x="110.5" y="929.5" text-anchor="middle" font-family='"Liberation Mono",monospace' font-size="10.5" fill="#333">18/9</text><path d="M208.55 910.4V914.5" stroke="#d0d0d0" stroke-width="1"/><text x="208.55" y="929.5" text-anchor="middle" font-family='"Liberation Mono",monospace' font-size="10.5" fill="#333">18/12</text><path d="M306.6 910.4V914.5" stroke="#d0d0d0" stroke-width="1"/><text x="306.6" y="929.5" text-anchor="middle" font-family='"Liberation Mono",monospace' font-size="10.5" fill="#333">19/3</text><path d="M404.65 910.4V914.5" stroke="#d0d0d0" stroke-width="1"/><text x="404.65" y="929.5" text-anchor="middle" font-family='"Liberation Mono",monospace' font-size="10.5" fill="#333">19/6</text><path d="M502.7 910.4V914.5" stroke="#d0d0d0" stroke-width="1"/><text x="502.7" y="929.5" text-anchor="middle" font-family='"Liberation Mono",monospace' font-size="10.5" fill="#333">19/9</text><path d="M600.75 910.4V914.5" stroke="#d0d0d0" stroke-width="1"/><text x="600.75" y="929.5" text-anchor="middle" font-family='"Liberation Mono",monospace' font-size="10.5" fill="#333">19/12</text><text x="101" y="644.5" font-family='"Liberation Sans","Noto Sans CJK SC",sans-serif' font-size="12" font-weight="bold" fill="#111">%</text><clipPath id="c1"><rect x="105" y="652.3" width="540" height="258.1"/></clipPath><g clip-path="url(#c1)"><polyline points="111.2,814.3 117.7,817.2 123.6,814.3 126.6,809.8 128.6,807.8 132.5,817.2 138.4,832.0 147.3,834.9 159.1,834.9 161.1,842.3 163.5,830.5 167.9,832.0 172.4,844.4 176.8,832.0 181.2,832.0 185.7,835.5 190.1,829.0 194.5,824.6 200.4,854.1 204.9,840.8 209.3,823.1 212.2,820.2 218.1,834.9 221.1,834.9 224.1,772.9 226.4,793.6 230.0,870.4 232.9,873.3 235.9,882.8 238.8,846.8 240.0,861.5 243.0,843.8 248.9,840.8 253.3,843.8 256.2,834.9 257.7,852.7 260.7,823.1 263.6,880.7 269.5,855.6 274.0,873.3 276.0,886.6 279.9,876.3 283.7,873.3 284.9,832.0 287.3,817.2 289.6,805.4 292.6,858.6 294.6,877.8 296.7,843.8 300.5,871.9 303.5,867.4 307.3,823.1 312.4,808.4 315.6,824.6 319.2,809.8 321.2,817.2 325.7,855.6 328.0,885.1 331.6,876.3 335.1,829.0 338.9,814.3 341.9,799.5 344.0,814.3 347.8,824.6 352.2,812.8 356.7,817.2 361.1,846.8 365.5,885.1 367.6,849.7 371.4,846.8 375.9,829.0 380.0,808.4 380.0,799.5 382.4,840.8 384.7,817.2 386.8,764.1 388.6,805.4 390.3,834.9 394.2,864.5 397.1,846.8 401.3,843.8 407.2,846.8 409.5,882.2 412.5,891.1 414.9,876.3 417.8,829.0 419.9,834.9 422.8,876.3 424.9,914.7 427.3,914.7 430.2,864.5 432.6,846.8 436.1,852.7 439.1,823.1 442.6,803.9 445.6,817.2 448.5,842.3 450.9,817.2 453.8,805.4 457.4,833.5 459.7,829.0 463.3,854.1 465.7,829.0 468.6,817.2 471.6,818.7 475.1,826.1 478.9,829.0 481.9,824.6 485.7,820.2 489.3,826.1 492.8,834.9 496.7,826.1 501.1,829.0 505.5,834.9 508.5,823.1 511.4,808.4 514.4,817.2 516.8,855.6 520.0,823.1 520.0,805.4 524.4,808.4 528.9,817.2 533.3,867.4 536.2,829.0 538.3,808.4 540.7,826.1 545.1,809.8 547.2,829.0 551.0,824.6 554.0,823.1 556.0,846.8 558.4,852.7 560.8,870.4 563.7,846.8 567.3,846.8 570.2,814.3 572.6,811.3 574.6,846.8 576.7,867.4 579.1,843.8 582.0,843.8 585.0,833.5 587.9,864.5 590.9,885.1 593.8,855.6 596.8,860.0 599.7,873.3 602.7,852.7 605.7,849.7 608.6,885.1 611.6,916.2 616.0,916.2 617.5,846.8 619.8,826.1 621.9,897.0 623.4,916.2 627.8,916.2 630.8,864.5 634.6,858.6 636.7,808.4 639.3,829.0" fill="none" stroke="#c9c9c9" stroke-width="2.6" stroke-linejoin="round" stroke-linecap="round" /><polyline points="111.2,801.9 114.8,804.8 119.2,804.8 123.6,802.4 128.1,801.0 132.5,801.9 136.9,802.4 141.4,806.9 145.8,806.9 150.2,801.0 154.6,789.2 159.1,786.8 163.5,784.1 167.9,781.8 172.4,781.2 176.8,780.3 181.2,776.5 185.7,772.3 190.1,770.0 194.5,767.0 198.9,765.5 203.4,764.1 207.8,761.7 212.2,759.6 216.7,753.7 219.6,750.8 222.6,740.4 224.6,736.0 227.0,738.9 230.0,741.9 232.9,752.2 235.9,767.0 238.8,778.8 240.0,779.4 243.0,783.2 245.9,790.6 250.3,793.6 254.8,794.5 260.7,794.5 266.6,794.5 272.5,794.5 275.4,801.0 277.8,807.8 279.9,808.4 282.8,813.7 287.3,814.3 293.2,814.3 299.1,813.7 303.5,812.8 307.3,809.8 310.9,806.0 313.8,803.9 317.4,801.9 321.2,805.4 324.2,807.8 328.6,811.9 333.0,813.7 337.5,812.8 341.9,808.4 346.3,803.9 350.8,801.0 353.7,793.6 356.7,790.6 359.6,790.6 362.6,790.6 365.5,793.6 368.5,795.9 372.9,795.9 377.3,795.1 380.0,794.2 384.4,793.6 388.9,793.0 393.3,794.2 396.2,791.2 400.7,790.0 405.1,788.3 408.6,788.6 411.9,793.6 415.4,801.0 417.8,814.3 420.8,820.2 424.3,826.1 427.8,832.6 431.7,833.5 435.5,833.5 439.1,831.4 443.5,829.0 447.9,829.0 452.4,828.4 456.8,826.7 461.2,827.6 465.7,829.0 468.6,827.6 473.0,825.5 477.5,824.6 481.9,821.6 486.3,819.6 492.2,820.2 498.1,819.6 504.1,819.6 510.0,818.7 514.4,816.6 517.3,817.2 520.0,816.6 524.4,817.2 528.9,817.8 533.3,818.1 537.7,817.2 542.2,812.8 546.6,805.4 551.0,802.4 554.9,796.5 558.4,792.1 561.9,787.7 566.7,786.2 569.6,779.4 573.2,777.3 579.1,776.5 583.5,778.8 589.4,779.4 595.3,778.2 601.2,777.3 607.1,775.9 611.6,775.9 616.0,777.6 620.4,778.8 623.4,784.7 626.3,792.1 629.9,798.9 633.7,799.5 636.7,798.9 639.3,798.6" fill="none" stroke="#376092" stroke-width="2.6" stroke-linejoin="round" stroke-linecap="round" /><polyline points="111.2,815.7 112.4,833.5 115.4,802.4 116.8,817.2 120.1,826.1 123.0,799.5 125.7,761.1 127.2,787.7 128.6,778.8 131.0,790.6 134.0,803.9 136.9,817.2 139.9,829.0 142.8,832.0 145.8,831.4 148.7,832.6 151.7,829.0 154.1,828.4 155.5,818.1 156.7,826.1 159.1,826.7 161.1,829.0 162.6,795.1 163.8,829.0 166.5,832.0 168.5,829.0 172.4,843.8 175.3,829.0 176.8,821.6 178.3,833.5 181.2,826.1 184.2,802.4 187.1,834.9 190.1,809.8 194.5,793.6 197.5,820.2 200.4,837.3 203.4,834.3 207.8,829.0 210.2,796.5 212.2,795.1 214.0,774.4 215.8,799.5 217.6,826.1 219.3,805.4 221.1,640.0 223.2,521.9 225.5,640.0 226.4,737.5 227.6,781.8 230.0,829.0 232.3,852.7 236.5,871.9 238.2,840.8 240.0,840.8 242.4,829.0 243.8,808.4 245.3,834.9 247.4,839.4 250.3,834.9 253.3,833.5 256.2,832.0 258.3,817.2 260.7,793.6 262.2,817.2 263.6,879.2 266.6,861.5 269.5,849.7 272.5,836.4 274.9,858.6 276.9,865.9 279.9,864.5 281.9,861.5 283.7,868.9 284.9,823.1 286.7,814.3 287.8,772.9 289.0,722.1 290.2,737.5 291.4,781.8 292.6,852.7 294.6,865.9 296.7,842.3 299.1,867.4 302.0,864.5 303.5,839.4 305.6,843.8 307.3,790.6 310.3,778.2 312.1,790.6 313.8,803.9 315.6,809.8 317.4,752.2 319.2,718.3 320.3,719.7 321.5,749.3 322.7,758.1 324.2,805.4 326.2,846.8 328.6,879.2 331.6,873.3 333.3,867.4 335.1,823.1 336.9,823.1 338.9,790.6 341.9,751.6 343.4,767.0 344.9,799.5 346.3,814.3 348.4,823.1 349.3,793.6 350.5,781.8 352.2,817.2 354.0,808.4 355.8,790.6 357.6,815.7 360.5,837.9 364.1,864.5 365.5,877.8 367.0,867.4 370.0,858.6 372.3,832.0 374.4,837.9 376.5,817.2 378.8,799.5 380.0,798.0 382.4,842.3 384.4,805.4 386.8,701.4 388.3,770.0 390.3,834.9 394.2,854.1 397.7,846.8 401.3,837.9 403.6,836.4 405.4,843.8 407.2,842.3 409.5,870.4 412.5,904.3 414.9,852.7 416.9,817.2 419.0,814.3 420.8,832.0 422.8,864.5 424.9,892.5 427.3,895.5 429.6,870.4 431.7,851.2 434.6,855.6 437.6,823.1 440.0,787.7 441.4,767.6 443.5,778.8 445.6,799.5 447.9,829.0 449.4,799.5 453.2,798.0 455.6,824.6 459.2,821.6 461.2,824.6 463.6,837.9 465.7,832.0 468.0,811.3 470.1,790.6 472.2,801.0 476.0,802.4 478.9,809.8 481.0,817.2 483.4,790.6 485.7,795.1 487.8,805.4 490.8,811.3 493.1,818.7 495.8,815.7 498.7,811.3 502.6,817.2 506.4,818.7 508.5,796.5 510.5,778.2 512.9,787.7 515.3,805.4 516.8,846.8 518.2,910.3 520.0,876.3 521.5,799.5 525.9,803.9 530.3,808.4 533.3,855.6 536.2,817.2 537.7,799.5 539.5,809.8 542.2,799.5 545.1,776.5 547.2,811.3 548.6,793.6 552.5,798.0 554.9,803.9 556.9,826.1 559.9,834.9 561.4,846.8 564.3,842.3 566.7,834.9 568.7,805.4 570.8,778.8 573.2,784.7 574.6,790.6 577.6,845.3 580.5,817.2 582.0,805.4 584.4,811.3 587.3,829.0 590.3,846.8 592.4,854.1 595.3,846.8 598.3,843.8 601.2,840.8 604.2,833.5 606.2,817.2 608.0,846.8 610.1,864.5 612.2,876.3 613.3,914.7 614.5,817.2 616.3,790.6 618.4,787.7 620.4,772.0 621.9,787.7 623.4,876.3 626.3,883.7 629.3,840.8 631.6,833.5 634.6,827.6 635.8,758.1 636.7,710.3 638.1,781.8 639.3,796.5" fill="none" stroke="#943634" stroke-width="2.1" stroke-linejoin="round" stroke-linecap="round" /></g><path d="M194 640H220" stroke="#376092" stroke-width="2.6"/><text x="222" y="644.6" font-family='"Liberation Mono",monospace' font-size="13.3" fill="#333">SHIBOR 3M</text><text x="301" y="644.4" font-family='"Noto Serif CJK SC","Liberation Serif",serif' font-size="12" letter-spacing="0.6" fill="#333">（日度）</text><path d="M376.5 640H408" stroke="#c9c9c9" stroke-width="2.6"/><text x="409" y="644.6" font-family='"Liberation Mono",monospace' font-size="13.3" fill="#333">DR007</text><path d="M478 640H504.5" stroke="#943634" stroke-width="1.8"/><text x="505.5" y="644.6" font-family='"Liberation Mono",monospace' font-size="13.3" fill="#333">R007</text></svg>
<svg class="abs" style="left:0;top:1277.6px" width="720" height="480.4000000000001" viewBox="0 1277.6 720 480.4000000000001"><rect x="6" y="1278.6" width="707.5" height="478.4000000000001" fill="none" stroke="#f75050" stroke-width="2"/><text x="157" y="1313" font-family='"Liberation Sans","Noto Sans CJK SC",sans-serif' font-size="13.5" letter-spacing="2.6" fill="#111">图2：2019年12月新增贷款中企业和居民中长期贷款回升</text><path d="M85.5 1327.5V1586" stroke="#d0d0d0" stroke-width="1.2" fill="none"/><path d="M85.5 1327.2H89.3" stroke="#d0d0d0" stroke-width="1"/><text x="69.5" y="1331.6000000000001" text-anchor="end" font-family='"Liberation Sans","Noto Sans CJK SC",sans-serif' font-size="12.4" fill="#4d4d4d">14,000</text><path d="M85.5 1356.05H89.3" stroke="#d0d0d0" stroke-width="1"/><text x="69.5" y="1360.45" text-anchor="end" font-family='"Liberation Sans","Noto Sans CJK SC",sans-serif' font-size="12.4" fill="#4d4d4d">12,000</text><path d="M85.5 1384.9H89.3" stroke="#d0d0d0" stroke-width="1"/><text x="69.5" y="1389.3000000000002" text-anchor="end" font-family='"Liberation Sans","Noto Sans CJK SC",sans-serif' font-size="12.4" fill="#4d4d4d">10,000</text><path d="M85.5 1413.75H89.3" stroke="#d0d0d0" stroke-width="1"/><text x="69.5" y="1418.15" text-anchor="end" font-family='"Liberation Sans","Noto Sans CJK SC",sans-serif' font-size="12.4" fill="#4d4d4d">8,000</text><path d="M85.5 1442.6000000000001H89.3" stroke="#d0d0d0" stroke-width="1"/><text x="69.5" y="1447.0000000000002" text-anchor="end" font-family='"Liberation Sans","Noto Sans CJK SC",sans-serif' font-size="12.4" fill="#4d4d4d">6,000</text><path d="M85.5 1471.45H89.3" stroke="#d0d0d0" stroke-width="1"/><text x="69.5" y="1475.8500000000001" text-anchor="end" font-family='"Liberation Sans","Noto Sans CJK SC",sans-serif' font-size="12.4" fill="#4d4d4d">4,000</text><path d="M85.5 1500.3000000000002H89.3" stroke="#d0d0d0" stroke-width="1"/><text x="69.5" y="1504.7000000000003" text-anchor="end" font-family='"Liberation Sans","Noto Sans CJK SC",sans-serif' font-size="12.4" fill="#4d4d4d">2,000</text><path d="M85.5 1529.15H89.3" stroke="#d0d0d0" stroke-width="1"/><text x="69.5" y="1533.5500000000002" text-anchor="end" font-family='"Liberation Sans","Noto Sans CJK SC",sans-serif' font-size="12.4" fill="#4d4d4d">-</text><path d="M85.5 1558.0H89.3" stroke="#d0d0d0" stroke-width="1"/><text x="69.5" y="1562.4" text-anchor="end" font-family='"Liberation Sans","Noto Sans CJK SC",sans-serif' font-size="12.4" fill="#4d4d4d">-2,000</text><path d="M85.5 1586.8500000000001H89.3" stroke="#d0d0d0" stroke-width="1"/><text x="69.5" y="1591.2500000000002" text-anchor="end" font-family='"Liberation Sans","Noto Sans CJK SC",sans-serif' font-size="12.4" fill="#4d4d4d">-4,000</text><path d="M85.5 1527.9H679.9" stroke="#d0d0d0" stroke-width="1.2"/><path d="M159.8 1527.9V1531.9" stroke="#d0d0d0" stroke-width="1"/><path d="M234.1 1527.9V1531.9" stroke="#d0d0d0" stroke-width="1"/><path d="M308.4 1527.9V1531.9" stroke="#d0d0d0" stroke-width="1"/><path d="M382.7 1527.9V1531.9" stroke="#d0d0d0" stroke-width="1"/><path d="M457.0 1527.9V1531.9" stroke="#d0d0d0" stroke-width="1"/><path d="M531.3 1527.9V1531.9" stroke="#d0d0d0" stroke-width="1"/><path d="M605.6 1527.9V1531.9" stroke="#d0d0d0" stroke-width="1"/><path d="M679.9 1527.9V1531.9" stroke="#d0d0d0" stroke-width="1"/><rect x="98.1" y="1378.6" width="12.15" height="149.3" fill="#943634"/><rect x="110.25" y="1443.8" width="12.15" height="84.1" fill="#c9c9c9"/><rect x="122.4" y="1372.4" width="12.15" height="155.5" fill="#376092"/><rect x="134.55" y="1363.46" width="12.15" height="164.44" fill="#e6b9b8"/><rect x="172.4" y="1427.65" width="12.15" height="100.25" fill="#943634"/><rect x="184.55" y="1498.47" width="12.15" height="29.43" fill="#c9c9c9"/><rect x="196.7" y="1500.06" width="12.15" height="27.84" fill="#376092"/><rect x="208.85" y="1470.52" width="12.15" height="57.38" fill="#e6b9b8"/><rect x="246.7" y="1516.79" width="12.15" height="11.11" fill="#943634"/><rect x="258.85" y="1527.9" width="12.15" height="14.71" fill="#c9c9c9"/><rect x="271.0" y="1527.9" width="12.15" height="11.11" fill="#376092"/><rect x="283.15" y="1527.4" width="12.15" height="0.5" fill="#e6b9b8"/><rect x="321.0" y="1527.9" width="12.15" height="36.93" fill="#943634"/><rect x="333.15" y="1507.71" width="12.15" height="20.2" fill="#c9c9c9"/><rect x="345.3" y="1479.29" width="12.15" height="48.61" fill="#376092"/><rect x="357.45" y="1524.12" width="12.15" height="3.78" fill="#e6b9b8"/><rect x="395.3" y="1467.17" width="12.15" height="60.73" fill="#943634"/><rect x="407.45" y="1483.4" width="12.15" height="44.5" fill="#c9c9c9"/><rect x="419.6" y="1483.9" width="12.15" height="44.0" fill="#376092"/><rect x="431.75" y="1458.31" width="12.15" height="69.59" fill="#e6b9b8"/><rect x="469.6" y="1517.8" width="12.15" height="10.1" fill="#943634"/><rect x="481.75" y="1525.45" width="12.15" height="2.45" fill="#c9c9c9"/><rect x="493.9" y="1506.12" width="12.15" height="21.78" fill="#376092"/><rect x="506.05" y="1504.32" width="12.15" height="23.58" fill="#e6b9b8"/><rect x="543.9" y="1521.41" width="12.15" height="6.49" fill="#943634"/><rect x="568.2" y="1506.7" width="12.15" height="21.2" fill="#376092"/><rect x="580.35" y="1520.53" width="12.15" height="7.37" fill="#e6b9b8"/><rect x="618.2" y="1527.9" width="12.15" height="2.89" fill="#943634"/><rect x="630.35" y="1527.18" width="12.15" height="0.72" fill="#c9c9c9"/><rect x="642.5" y="1526.75" width="12.15" height="1.15" fill="#376092"/><rect x="654.65" y="1525.66" width="12.15" height="2.24" fill="#e6b9b8"/><text x="143.3" y="1356.4" text-anchor="middle" font-family='"Liberation Sans","Noto Sans CJK SC",sans-serif' font-size="12.4" fill="#4d4d4d">11,400</text><text x="216.5" y="1462.5" text-anchor="middle" font-family='"Liberation Sans","Noto Sans CJK SC",sans-serif' font-size="12.4" fill="#4d4d4d">3,978</text><text x="291" y="1520.2" text-anchor="middle" font-family='"Liberation Sans","Noto Sans CJK SC",sans-serif' font-size="12.4" fill="#4d4d4d">35</text><text x="365.6" y="1517.1" text-anchor="middle" font-family='"Liberation Sans","Noto Sans CJK SC",sans-serif' font-size="12.4" fill="#4d4d4d">262</text><text x="439.5" y="1450.2" text-anchor="middle" font-family='"Liberation Sans","Noto Sans CJK SC",sans-serif' font-size="12.4" fill="#4d4d4d">4,824</text><text x="513" y="1496.8" text-anchor="middle" font-family='"Liberation Sans","Noto Sans CJK SC",sans-serif' font-size="12.4" fill="#4d4d4d">1,635</text><text x="588.4" y="1514" text-anchor="middle" font-family='"Liberation Sans","Noto Sans CJK SC",sans-serif' font-size="12.4" fill="#4d4d4d">511</text><text x="662.3" y="1519.1" text-anchor="middle" font-family='"Liberation Sans","Noto Sans CJK SC",sans-serif' font-size="12.4" fill="#4d4d4d">155</text><text x="90" y="1346.5" font-family='"Liberation Sans","Noto Sans CJK SC",sans-serif' font-size="15.5" font-weight="bold" font-style="italic" fill="#111">亿元</text><rect x="257.0" y="1334" width="6.5" height="6.5" fill="#943634"/><text x="267.5" y="1341.8" font-family='"Liberation Sans","Noto Sans CJK SC",sans-serif' font-size="12.6" fill="#4d4d4d">2016</text><rect x="312.8" y="1334" width="6.5" height="6.5" fill="#c9c9c9"/><text x="323.3" y="1341.8" font-family='"Liberation Sans","Noto Sans CJK SC",sans-serif' font-size="12.6" fill="#4d4d4d">2017</text><rect x="368.6" y="1334" width="6.5" height="6.5" fill="#376092"/><text x="379.1" y="1341.8" font-family='"Liberation Sans","Noto Sans CJK SC",sans-serif' font-size="12.6" fill="#4d4d4d">2018</text><rect x="424.4" y="1334" width="6.5" height="6.5" fill="#e6b9b8"/><text x="434.9" y="1341.8" font-family='"Liberation Sans","Noto Sans CJK SC",sans-serif' font-size="12.6" fill="#4d4d4d">2019</text></svg><div class="abs" style="left:114.2px;top:1602px;width:16px;writing-mode:vertical-rl;font-family:'Noto Serif CJK SC','Liberation Serif',serif;font-size:13px;letter-spacing:3.3px;line-height:16px;color:#222;white-space:nowrap">新增人民币贷款</div><div class="abs" style="left:188.5px;top:1602px;width:16px;writing-mode:vertical-rl;font-family:'Noto Serif CJK SC','Liberation Serif',serif;font-size:13px;letter-spacing:3.3px;line-height:16px;color:#222;white-space:nowrap">对公:中长期</div><div class="abs" style="left:262.8px;top:1602px;width:16px;writing-mode:vertical-rl;font-family:'Noto Serif CJK SC','Liberation Serif',serif;font-size:13px;letter-spacing:3.3px;line-height:16px;color:#222;white-space:nowrap">对公:短期</div><div class="abs" style="left:337.0px;top:1602px;width:16px;writing-mode:vertical-rl;font-family:'Noto Serif CJK SC','Liberation Serif',serif;font-size:13px;letter-spacing:3.3px;line-height:16px;color:#222;white-space:nowrap">对公:票据融资</div><div class="abs" style="left:411.3px;top:1602px;width:16px;writing-mode:vertical-rl;font-family:'Noto Serif CJK SC','Liberation Serif',serif;font-size:13px;letter-spacing:3.3px;line-height:16px;color:#222;white-space:nowrap">居民户:中长期</div><div class="abs" style="left:485.6px;top:1602px;width:16px;writing-mode:vertical-rl;font-family:'Noto Serif CJK SC','Liberation Serif',serif;font-size:13px;letter-spacing:3.3px;line-height:16px;color:#222;white-space:nowrap">居民户:短期</div><div class="abs" style="left:559.9px;top:1602px;width:16px;writing-mode:vertical-rl;font-family:'Noto Serif CJK SC','Liberation Serif',serif;font-size:13px;letter-spacing:3.3px;line-height:16px;color:#222;white-space:nowrap">非银贷款</div><div class="abs" style="left:634.2px;top:1602px;width:16px;writing-mode:vertical-rl;font-family:'Noto Serif CJK SC','Liberation Serif',serif;font-size:13px;letter-spacing:3.3px;line-height:16px;color:#222;white-space:nowrap">其他</div>
<svg class="abs" style="left:0;top:1805px" width="720" height="401" viewBox="0 1805 720 401"><rect x="6" y="1806" width="707.5" height="399" fill="none" stroke="#f75050" stroke-width="2"/><text x="173.6" y="1838.8" font-family='"Liberation Sans","Noto Sans CJK SC",sans-serif' font-size="13.5" letter-spacing="2.58" fill="#111">图3：2019年12月高技术产业投资累计增速大幅上升</text><path d="M59.5 1914.8V2137.8H542.4" fill="none" stroke="#d0d0d0" stroke-width="1.3"/><path d="M59.5 1914.9H63.5" stroke="#d0d0d0" stroke-width="1"/><text x="46" y="1919.6000000000001" text-anchor="end" font-family='"Liberation Sans","Noto Sans CJK SC",sans-serif' font-size="13.5" fill="#4d4d4d">20</text><path d="M59.5 1970.6000000000001H63.5" stroke="#d0d0d0" stroke-width="1"/><text x="46" y="1975.3000000000002" text-anchor="end" font-family='"Liberation Sans","Noto Sans CJK SC",sans-serif' font-size="13.5" fill="#4d4d4d">15</text><path d="M59.5 2026.3000000000002H63.5" stroke="#d0d0d0" stroke-width="1"/><text x="46" y="2031.0000000000002" text-anchor="end" font-family='"Liberation Sans","Noto Sans CJK SC",sans-serif' font-size="13.5" fill="#4d4d4d">10</text><path d="M59.5 2082.0H63.5" stroke="#d0d0d0" stroke-width="1"/><text x="46" y="2086.7" text-anchor="end" font-family='"Liberation Sans","Noto Sans CJK SC",sans-serif' font-size="13.5" fill="#4d4d4d">5</text><path d="M59.5 2137.7000000000003H63.5" stroke="#d0d0d0" stroke-width="1"/><text x="46" y="2142.4" text-anchor="end" font-family='"Liberation Sans","Noto Sans CJK SC",sans-serif' font-size="13.5" fill="#4d4d4d">0</text><path d="M59.5 2137.8V2142" stroke="#d0d0d0" stroke-width="1"/><text x="65.0" y="2160.7" text-anchor="middle" font-family='"Liberation Sans","Noto Sans CJK SC",sans-serif' font-size="13.5" fill="#4d4d4d">16–04</text><path d="M123.86 2137.8V2142" stroke="#d0d0d0" stroke-width="1"/><text x="129.36" y="2160.7" text-anchor="middle" font-family='"Liberation Sans","Noto Sans CJK SC",sans-serif' font-size="13.5" fill="#4d4d4d">16–10</text><path d="M188.22 2137.8V2142" stroke="#d0d0d0" stroke-width="1"/><text x="193.72" y="2160.7" text-anchor="middle" font-family='"Liberation Sans","Noto Sans CJK SC",sans-serif' font-size="13.5" fill="#4d4d4d">17–04</text><path d="M252.57999999999998 2137.8V2142" stroke="#d0d0d0" stroke-width="1"/><text x="258.08" y="2160.7" text-anchor="middle" font-family='"Liberation Sans","Noto Sans CJK SC",sans-serif' font-size="13.5" fill="#4d4d4d">17–10</text><path d="M316.94 2137.8V2142" stroke="#d0d0d0" stroke-width="1"/><text x="322.44" y="2160.7" text-anchor="middle" font-family='"Liberation Sans","Noto Sans CJK SC",sans-serif' font-size="13.5" fill="#4d4d4d">18–04</text><path d="M381.3 2137.8V2142" stroke="#d0d0d0" stroke-width="1"/><text x="386.8" y="2160.7" text-anchor="middle" font-family='"Liberation Sans","Noto Sans CJK SC",sans-serif' font-size="13.5" fill="#4d4d4d">18–10</text><path d="M445.65999999999997 2137.8V2142" stroke="#d0d0d0" stroke-width="1"/><text x="451.15999999999997" y="2160.7" text-anchor="middle" font-family='"Liberation Sans","Noto Sans CJK SC",sans-serif' font-size="13.5" fill="#4d4d4d">19–04</text><path d="M510.02 2137.8V2142" stroke="#d0d0d0" stroke-width="1"/><text x="515.52" y="2160.7" text-anchor="middle" font-family='"Liberation Sans","Noto Sans CJK SC",sans-serif' font-size="13.5" fill="#4d4d4d">19–10</text><text x="57.5" y="1875.3" font-family='"Liberation Sans","Noto Sans CJK SC",sans-serif' font-size="12" font-weight="bold" fill="#111">%</text><polyline points="64.3,2020.0 75.4,2031.6 85.6,2037.7 96.7,2047.3 108.4,2047.3 120.0,2046.3 131.1,2045.3 141.3,2045.3 151.4,2047.3 161.5,2043.3 172.7,2038.2 183.3,2035.2 194.4,2038.7 204.6,2041.8 214.7,2041.8 224.8,2045.3 236.5,2051.4 247.6,2054.4 257.7,2056.5 267.8,2057.5 280.3,2057.5 290.4,2053.4 301.5,2049.4 312.2,2054.4 323.3,2061.0 333.4,2070.1 343.5,2072.2 354.7,2077.2 365.3,2078.7 376.5,2077.2 386.6,2074.2 397.7,2072.2 408.4,2072.2 419.5,2071.1 429.6,2070.1 440.8,2067.6 451.4,2070.1 461.5,2075.7 472.7,2073.7 482.8,2074.7 494.2,2076.7 504.3,2077.7 515.4,2079.7 526.6,2079.7 537.2,2077.7" fill="none" stroke="#c9c9c9" stroke-width="2.6" stroke-linejoin="round" stroke-linecap="round" /><polyline points="64.3,2070.6 75.4,2087.3 86.6,2101.5 96.7,2104.6 108.4,2107.1 118.5,2103.5 130.1,2103.5 140.3,2098.0 151.4,2091.4 161.5,2090.9 172.7,2090.4 183.3,2073.7 194.4,2083.3 204.6,2081.3 214.7,2076.7 225.8,2084.8 236.5,2087.8 247.6,2091.4 257.7,2092.4 268.9,2092.4 279.2,2084.8 290.4,2087.3 301.5,2089.9 312.2,2095.4 323.3,2084.3 333.4,2079.7 343.5,2062.0 354.7,2056.5 365.3,2054.4 376.5,2040.8 386.6,2036.7 397.7,2031.6 406.8,2031.6 419.5,2054.4 429.6,2072.2 440.8,2087.3 451.4,2110.1 461.5,2107.6 472.7,2104.6 482.8,2101.5 494.2,2109.1 504.3,2110.1 515.4,2109.1 526.6,2110.1 537.2,2103.5" fill="none" stroke="#376092" stroke-width="1.7" stroke-linejoin="round" stroke-linecap="round" /><polyline points="74.4,1986.1 236.5,1938.5 321.8,2021.5 333.4,2020.5 365.3,2004.8 408.4,1970.9 429.6,2041.8 461.5,2004.8 472.7,2008.9 482.8,2009.9 494.2,1992.2 504.3,1992.2 515.4,1978.5 526.6,1980.0 537.2,1944.6" fill="none" stroke="#943634" stroke-width="2.7" stroke-linejoin="round" stroke-linecap="round" /><text x="500" y="1917.3" font-family='"Liberation Mono",monospace' font-size="13" font-weight="normal" fill="#222">17.3</text><text x="516.5" y="2053" font-family='"Liberation Mono",monospace' font-size="13" font-weight="normal" fill="#222">5.4</text><text x="520.5" y="2127.4" font-family='"Liberation Mono",monospace' font-size="13" font-weight="bold" fill="#222">3.1</text><path d="M117.7 1866.5H144.8" stroke="#943634" stroke-width="2.4"/><text x="146.4" y="1871.5" font-family='"Noto Serif CJK SC","Liberation Serif",serif' font-size="13.8" letter-spacing="2.05" fill="#222">高技术产业投资增速</text><path d="M292.6 1866.5H319.3" stroke="#c9c9c9" stroke-width="2.4"/><text x="322" y="1871.5" font-family='"Noto Serif CJK SC","Liberation Serif",serif' font-size="13.8" letter-spacing="2.05" fill="#222">总固定资产投资增速</text><path d="M117.7 1888.2H144.8" stroke="#376092" stroke-width="1.8"/><text x="146.4" y="1893.2" font-family='"Noto Serif CJK SC","Liberation Serif",serif' font-size="13.8" letter-spacing="2.05" fill="#222">制造业投资增速</text></svg>
</body></html>
